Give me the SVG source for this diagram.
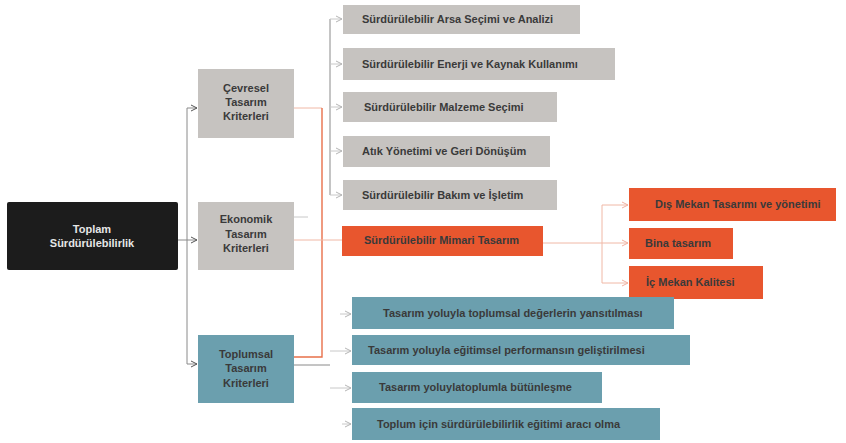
<svg xmlns="http://www.w3.org/2000/svg" width="846" height="443" viewBox="0 0 846 443">
<defs>
<style>
.t{font-family:"Liberation Sans",Arial,sans-serif;font-size:11px;font-weight:bold;fill:#3a3a3a}
.c{text-anchor:middle}
.w{fill:#e6e6e6}
.gray{fill:#c6c3c0}
.org{fill:#e8562e}
.blu{fill:#6b9fae}
.blk{fill:#1c1c1c}
.lg{stroke:#8a8a8a;stroke-width:1;fill:none}
.ll{stroke:#c8c8c8;stroke-width:1;fill:none}
.lo{stroke:#e8704a;stroke-width:1.4;fill:none}
.lp{stroke:#f0b8a6;stroke-width:1;fill:none}
</style>
<marker id="ad" markerWidth="8" markerHeight="8" refX="7" refY="4" orient="auto" markerUnits="userSpaceOnUse"><path d="M1,1 L7,4 L1,7" fill="none" stroke="#555" stroke-width="1"/></marker>
<marker id="al" markerWidth="8" markerHeight="8" refX="7" refY="4" orient="auto" markerUnits="userSpaceOnUse"><path d="M1,1 L7,4 L1,7" fill="none" stroke="#b5b5b5" stroke-width="1"/></marker>
<marker id="ap" markerWidth="8" markerHeight="8" refX="7" refY="4" orient="auto" markerUnits="userSpaceOnUse"><path d="M1,1 L7,4 L1,7" fill="none" stroke="#f0b0a0" stroke-width="1"/></marker>
</defs>
<rect width="846" height="443" fill="#ffffff"/>
<g id="connectors">
<path class="lg" d="M178,240 H187"/>
<path class="lg" d="M187,108 V364"/>
<path class="lg" d="M187,108 H197" marker-end="url(#ad)"/>
<path class="lg" d="M187,240 H197" marker-end="url(#ad)"/>
<path class="lg" d="M187,364 H197" marker-end="url(#ad)"/>
<path class="lp" d="M294,108 H322"/>
<path class="lo" d="M322,108 V357 H294"/>
<path class="lp" d="M294,240 H342"/>
<path class="ll" d="M294,217 H308"/>
<path class="lg" d="M330,19 V195"/>
<path class="ll" d="M330,19 H342" marker-end="url(#al)"/>
<path class="ll" d="M330,64 H342" marker-end="url(#al)"/>
<path class="ll" d="M330,107 H342" marker-end="url(#al)"/>
<path class="ll" d="M330,151 H342" marker-end="url(#al)"/>
<path class="ll" d="M330,195 H342" marker-end="url(#al)"/>
<path class="lp" d="M543,243 H628" marker-end="url(#ap)"/>
<path class="lp" d="M602,205 V283"/>
<path class="lp" d="M602,205 H628" marker-end="url(#ap)"/>
<path class="lp" d="M602,283 H628" marker-end="url(#ap)"/>
<path class="lg" d="M294,365 H330"/>
<path class="ll" d="M340,314 H351" marker-end="url(#al)"/>
<path class="ll" d="M330,351 H351" marker-end="url(#al)"/>
<path class="ll" d="M330,388 H351" marker-end="url(#al)"/>
<path class="ll" d="M342,424 H351" marker-end="url(#al)"/>
</g>
<g id="toplam"><rect class="blk" x="7" y="202" width="171" height="68" rx="2"/><text class="t w c" x="92" y="233">Toplam</text><text class="t w c" x="92" y="247">Sürdürülebilirlik</text></g>
<g id="cevresel"><rect class="gray" x="198" y="69" width="96" height="69"/><text class="t c" x="246" y="92">Çevresel</text><text class="t c" x="246" y="106">Tasarım</text><text class="t c" x="246" y="120">Kriterleri</text></g>
<g id="ekonomik"><rect class="gray" x="198" y="202" width="96" height="68"/><text class="t c" x="246" y="223">Ekonomik</text><text class="t c" x="246" y="238">Tasarım</text><text class="t c" x="246" y="252">Kriterleri</text></g>
<g id="toplumsal"><rect class="blu" x="198" y="335" width="96" height="68"/><text class="t c" x="246" y="358">Toplumsal</text><text class="t c" x="246" y="372">Tasarım</text><text class="t c" x="246" y="387">Kriterleri</text></g>
<g id="arsa"><rect class="gray" x="343" y="5" width="237" height="29"/><text class="t" x="362" y="23">Sürdürülebilir Arsa Seçimi ve Analizi</text></g>
<g id="enerji"><rect class="gray" x="343" y="48" width="272" height="32"/><text class="t" x="362" y="68">Sürdürülebilir Enerji ve Kaynak Kullanımı</text></g>
<g id="malzeme"><rect class="gray" x="343" y="92" width="214" height="30"/><text class="t" x="364" y="111">Sürdürülebilir Malzeme Seçimi</text></g>
<g id="atik"><rect class="gray" x="343" y="136" width="207" height="31"/><text class="t" x="362" y="155">Atık Yönetimi ve Geri Dönüşüm</text></g>
<g id="bakim"><rect class="gray" x="343" y="180" width="214" height="30"/><text class="t" x="362" y="199">Sürdürülebilir Bakım ve İşletim</text></g>
<g id="mimari"><rect class="org" x="342" y="226" width="201" height="30"/><text class="t" x="364" y="244">Sürdürülebilir Mimari Tasarım</text></g>
<g id="dis"><rect class="org" x="629" y="188" width="207" height="33"/><text class="t" x="655" y="208">Dış Mekan Tasarımı ve yönetimi</text></g>
<g id="bina"><rect class="org" x="629" y="228" width="104" height="31"/><text class="t" x="645" y="247">Bina tasarım</text></g>
<g id="ic"><rect class="org" x="629" y="266" width="134" height="33"/><text class="t" x="646" y="286">İç Mekan Kalitesi</text></g>
<g id="b1"><rect class="blu" x="352" y="297" width="322" height="32"/><text class="t" x="383" y="317">Tasarım yoluyla toplumsal değerlerin yansıtılması</text></g>
<g id="b2"><rect class="blu" x="352" y="335" width="338" height="30"/><text class="t" x="368" y="354">Tasarım yoluyla eğitimsel performansın geliştirilmesi</text></g>
<g id="b3"><rect class="blu" x="352" y="372" width="250" height="31"/><text class="t" x="379" y="391">Tasarım yoluylatoplumla bütünleşme</text></g>
<g id="b4"><rect class="blu" x="352" y="408" width="308" height="32"/><text class="t" x="377" y="428">Toplum için sürdürülebilirlik eğitimi aracı olma</text></g>
</svg>
